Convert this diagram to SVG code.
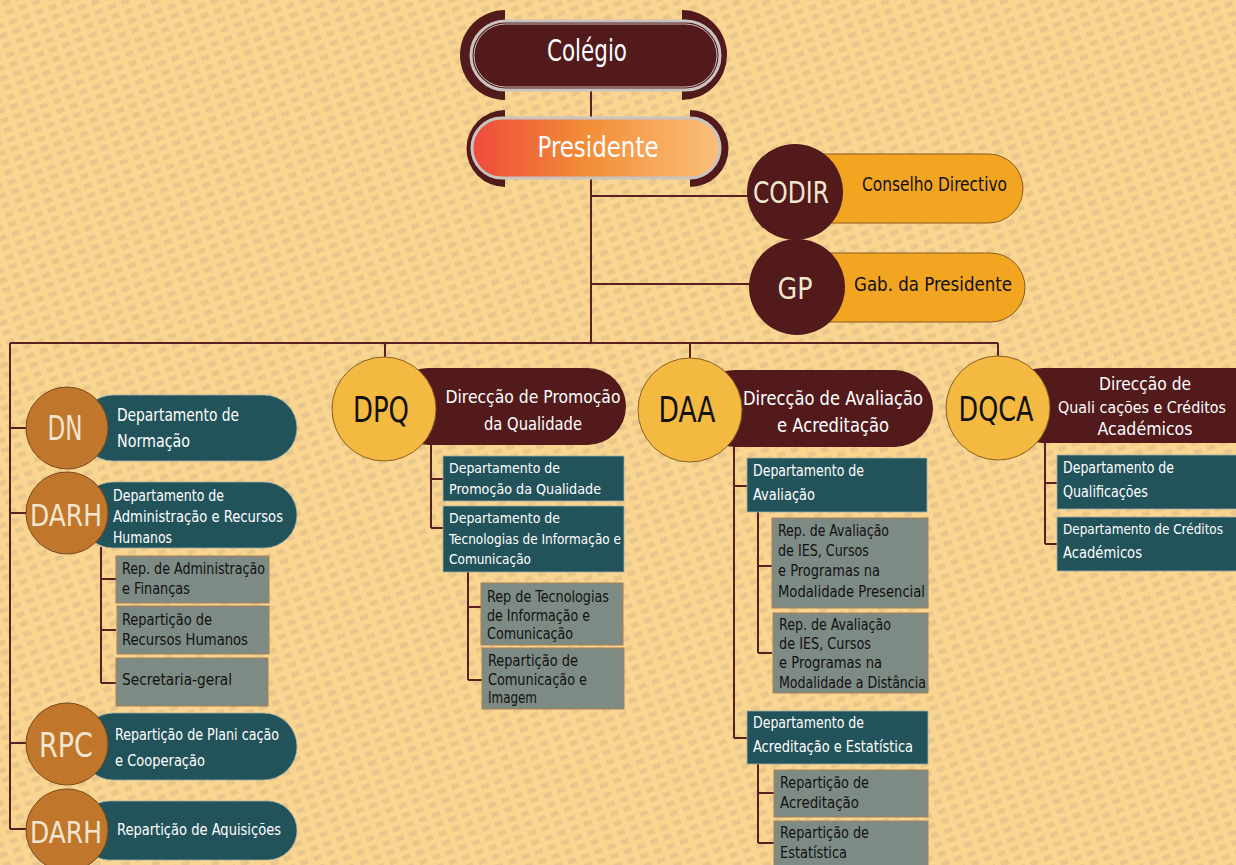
<svg xmlns="http://www.w3.org/2000/svg" width="1236" height="865" viewBox="0 0 1236 865">
<defs>
<pattern id="bgp" width="14" height="10" patternUnits="userSpaceOnUse" patternTransform="rotate(-20)">
<rect width="14" height="10" fill="#F9D58F"/>
<rect x="1" y="2" width="8" height="5" fill="#E8C68C"/>
</pattern>
<linearGradient id="pres" x1="0" y1="0" x2="1" y2="0">
<stop offset="0" stop-color="#EE4A3D"/>
<stop offset="0.45" stop-color="#F28C36"/>
<stop offset="1" stop-color="#FAC07A"/>
</linearGradient>
<style>
.t{font-family:"DejaVu Sans Condensed","Liberation Sans Narrow","DejaVu Sans",sans-serif;font-stretch:condensed}
.con{fill:none;stroke:#5A1F1F;stroke-width:2}
.maroon{fill:#521A1B}
.teal{fill:#22535A;stroke:#9FB0A8;stroke-width:0.8}
.grey{fill:#7E8A84;stroke:#A98055;stroke-width:1}
.copper{fill:#C0772C;stroke:#7A4A20;stroke-width:1}
.gold{fill:#F4B940;stroke:#8A6020;stroke-width:1}
.orange{fill:#F2A521;stroke:#8A5A20;stroke-width:1}
.w{fill:#FFFFFF}
.cream{fill:#F3E6CF}
.k{fill:#111111}
</style>
</defs>
<rect width="1236" height="865" fill="url(#bgp)"/>

<g id="connectors">
<path class="con" d="M591,90 V118 M591,178 V343 M591,196 H748 M591,284 H752"/>
<path class="con" d="M10,343 H998 M10,343 V829 M10,428 H26 M10,513 H26 M10,743 H26 M10,829 H26"/>
<path class="con" d="M385,343 V357 M690,343 V358 M998,343 V356"/>
<path class="con" d="M101,547 V683 M101,579 H116 M101,630 H116 M101,683 H116"/>
<path class="con" d="M431,445 V528 M431,479 H443 M431,528 H443 M468,572 V680 M468,607 H481 M468,680 H482"/>
<path class="con" d="M734,447 V738 M734,486 H747 M734,738 H747 M758,512 V653 M758,566 H772 M758,653 H772 M758,764 V843 M758,793 H774 M758,843 H774"/>
<path class="con" d="M1045,443 V544 M1045,483 H1057 M1045,544 H1057"/>
</g>

<g id="colegio">
<path class="maroon" d="M505,10 A45,45 0 0 0 505,100 Z"/>
<path class="maroon" d="M682,10 A45,45 0 0 1 682,100 Z"/>
<rect x="471" y="21" width="249" height="69" rx="34.5" fill="#521A1B" stroke="#C9C4C0" stroke-width="3"/>
<rect x="474" y="24" width="243" height="63" rx="31.5" fill="none" stroke="#E8E2DC" stroke-width="0.8"/>
<text class="t w" x="587" y="61" font-size="30" text-anchor="middle" textLength="80" lengthAdjust="spacingAndGlyphs">Colégio</text>
</g>

<g id="presidente">
<path class="maroon" d="M505,110 A38.5,38.5 0 0 0 505,187 Z"/>
<path class="maroon" d="M690,110 A38.5,38.5 0 0 1 690,187 Z"/>
<rect x="472" y="118" width="248" height="60" rx="30" fill="url(#pres)" stroke="#C9C4C0" stroke-width="3"/>
<text class="t w" x="598" y="157" font-size="28" text-anchor="middle" textLength="121" lengthAdjust="spacingAndGlyphs">Presidente</text>
</g>

<g id="codir">
<rect class="orange" x="790" y="154" width="233" height="69" rx="34.5"/>
<circle class="maroon" cx="795" cy="192" r="48"/>
<text class="t cream" x="791" y="203" font-size="31" text-anchor="middle" textLength="76" lengthAdjust="spacingAndGlyphs">CODIR</text>
<text class="t k" x="862" y="191" font-size="19" textLength="145" lengthAdjust="spacingAndGlyphs">Conselho Directivo</text>
</g>

<g id="gp">
<rect class="orange" x="792" y="253" width="233" height="69" rx="34.5"/>
<circle class="maroon" cx="797" cy="287" r="48"/>
<text class="t cream" x="795" y="299" font-size="31" text-anchor="middle" textLength="35" lengthAdjust="spacingAndGlyphs">GP</text>
<text class="t k" x="854" y="291" font-size="20" textLength="158" lengthAdjust="spacingAndGlyphs">Gab. da Presidente</text>
</g>

<g id="dn">
<rect class="teal" x="80" y="395" width="217" height="66" rx="33"/>
<circle class="copper" cx="67" cy="428" r="41"/>
<text class="t cream" x="65" y="440" font-size="33" text-anchor="middle" textLength="35" lengthAdjust="spacingAndGlyphs">DN</text>
<text class="t w" x="117" y="421" font-size="17" textLength="122" lengthAdjust="spacingAndGlyphs">Departamento de</text>
<text class="t w" x="117" y="447" font-size="17" textLength="73" lengthAdjust="spacingAndGlyphs">Normação</text>
</g>

<g id="darh">
<rect class="teal" x="80" y="482" width="217" height="66" rx="33"/>
<circle class="copper" cx="67" cy="513" r="41"/>
<text class="t cream" x="66" y="526" font-size="31" text-anchor="middle" textLength="72" lengthAdjust="spacingAndGlyphs">DARH</text>
<text class="t w" x="113" y="501" font-size="15.5" textLength="111" lengthAdjust="spacingAndGlyphs">Departamento de</text>
<text class="t w" x="113" y="522" font-size="15.5" textLength="170" lengthAdjust="spacingAndGlyphs">Administração e Recursos</text>
<text class="t w" x="113" y="543" font-size="15.5" textLength="59" lengthAdjust="spacingAndGlyphs">Humanos</text>
</g>

<g id="rep-admin">
<rect class="grey" x="116" y="556" width="153" height="47"/>
<text class="t k" x="122" y="574" font-size="15.5" textLength="143" lengthAdjust="spacingAndGlyphs">Rep. de Administração</text>
<text class="t k" x="122" y="594" font-size="15.5" textLength="68" lengthAdjust="spacingAndGlyphs">e Finanças</text>
</g>
<g id="rep-rh">
<rect class="grey" x="117" y="606" width="152" height="48"/>
<text class="t k" x="122" y="625" font-size="15.5" textLength="90" lengthAdjust="spacingAndGlyphs">Repartição de</text>
<text class="t k" x="122" y="645" font-size="15.5" textLength="126" lengthAdjust="spacingAndGlyphs">Recursos Humanos</text>
</g>
<g id="secretaria">
<rect class="grey" x="116" y="658" width="152" height="48"/>
<text class="t k" x="122" y="685" font-size="15.5" textLength="110" lengthAdjust="spacingAndGlyphs">Secretaria-geral</text>
</g>

<g id="rpc">
<rect class="teal" x="80" y="713" width="217" height="67" rx="33.5"/>
<circle class="copper" cx="67" cy="744" r="41"/>
<text class="t cream" x="66" y="757" font-size="33" text-anchor="middle" textLength="54" lengthAdjust="spacingAndGlyphs">RPC</text>
<text class="t w" x="115" y="740" font-size="15.5" textLength="164" lengthAdjust="spacingAndGlyphs">Repartição de Plani cação</text>
<text class="t w" x="115" y="766" font-size="15.5" textLength="90" lengthAdjust="spacingAndGlyphs">e Cooperação</text>
</g>

<g id="darh2">
<rect class="teal" x="80" y="801" width="217" height="59" rx="29.5"/>
<circle class="copper" cx="67" cy="830" r="41"/>
<text class="t cream" x="66" y="843" font-size="31" text-anchor="middle" textLength="72" lengthAdjust="spacingAndGlyphs">DARH</text>
<text class="t w" x="117" y="835" font-size="15.5" textLength="164" lengthAdjust="spacingAndGlyphs">Repartição de Aquisições</text>
</g>

<g id="dpq">
<rect class="maroon" x="390" y="368" width="236" height="77" rx="38.5"/>
<circle class="gold" cx="384" cy="409" r="52"/>
<text class="t k" x="381" y="422" font-size="36" text-anchor="middle" textLength="56" lengthAdjust="spacingAndGlyphs">DPQ</text>
<text class="t w" x="533" y="403" font-size="18.5" text-anchor="middle" textLength="175" lengthAdjust="spacingAndGlyphs">Direcção de Promoção</text>
<text class="t w" x="533" y="430" font-size="18.5" text-anchor="middle" textLength="98" lengthAdjust="spacingAndGlyphs">da Qualidade</text>
</g>
<g id="dpq-dep1">
<rect class="teal" x="443" y="456" width="181" height="45"/>
<text class="t w" x="449" y="473" font-size="14.5" textLength="111" lengthAdjust="spacingAndGlyphs">Departamento de</text>
<text class="t w" x="449" y="494" font-size="14.5" textLength="152" lengthAdjust="spacingAndGlyphs">Promoção da Qualidade</text>
</g>
<g id="dpq-dep2">
<rect class="teal" x="443" y="506" width="181" height="66"/>
<text class="t w" x="449" y="523" font-size="14.5" textLength="111" lengthAdjust="spacingAndGlyphs">Departamento de</text>
<text class="t w" x="449" y="544" font-size="14.5" textLength="172" lengthAdjust="spacingAndGlyphs">Tecnologias de Informação e</text>
<text class="t w" x="449" y="564" font-size="14.5" textLength="82" lengthAdjust="spacingAndGlyphs">Comunicação</text>
</g>
<g id="dpq-rep1">
<rect class="grey" x="481" y="583" width="142" height="62"/>
<text class="t k" x="487" y="602" font-size="15" textLength="122" lengthAdjust="spacingAndGlyphs">Rep de Tecnologias</text>
<text class="t k" x="487" y="621" font-size="15" textLength="103" lengthAdjust="spacingAndGlyphs">de Informação e</text>
<text class="t k" x="487" y="639" font-size="15" textLength="86" lengthAdjust="spacingAndGlyphs">Comunicação</text>
</g>
<g id="dpq-rep2">
<rect class="grey" x="482" y="648" width="142" height="61"/>
<text class="t k" x="488" y="666" font-size="15" textLength="90" lengthAdjust="spacingAndGlyphs">Repartição de</text>
<text class="t k" x="488" y="685" font-size="15" textLength="99" lengthAdjust="spacingAndGlyphs">Comunicação e</text>
<text class="t k" x="488" y="703" font-size="15" textLength="49" lengthAdjust="spacingAndGlyphs">Imagem</text>
</g>

<g id="daa">
<rect class="maroon" x="696" y="370" width="237" height="77" rx="38.5"/>
<circle class="gold" cx="690" cy="410" r="52"/>
<text class="t k" x="687" y="422" font-size="36" text-anchor="middle" textLength="57" lengthAdjust="spacingAndGlyphs">DAA</text>
<text class="t w" x="833" y="405" font-size="19.5" text-anchor="middle" textLength="180" lengthAdjust="spacingAndGlyphs">Direcção de Avaliação</text>
<text class="t w" x="833" y="432" font-size="19.5" text-anchor="middle" textLength="112" lengthAdjust="spacingAndGlyphs">e Acreditação</text>
</g>
<g id="daa-dep1">
<rect class="teal" x="747" y="458" width="180" height="54"/>
<text class="t w" x="753" y="476" font-size="15" textLength="111" lengthAdjust="spacingAndGlyphs">Departamento de</text>
<text class="t w" x="753" y="500" font-size="15" textLength="62" lengthAdjust="spacingAndGlyphs">Avaliação</text>
</g>
<g id="daa-rep1">
<rect class="grey" x="772" y="518" width="156" height="90"/>
<text class="t k" x="778" y="536" font-size="15" textLength="111" lengthAdjust="spacingAndGlyphs">Rep. de Avaliação</text>
<text class="t k" x="778" y="556" font-size="15" textLength="91" lengthAdjust="spacingAndGlyphs">de IES, Cursos</text>
<text class="t k" x="778" y="576" font-size="15" textLength="102" lengthAdjust="spacingAndGlyphs">e Programas na</text>
<text class="t k" x="778" y="597" font-size="15" textLength="147" lengthAdjust="spacingAndGlyphs">Modalidade Presencial</text>
</g>
<g id="daa-rep2">
<rect class="grey" x="773" y="613" width="155" height="80"/>
<text class="t k" x="779" y="630" font-size="15" textLength="112" lengthAdjust="spacingAndGlyphs">Rep. de Avaliação</text>
<text class="t k" x="779" y="649" font-size="15" textLength="92" lengthAdjust="spacingAndGlyphs">de IES, Cursos</text>
<text class="t k" x="779" y="668" font-size="15" textLength="103" lengthAdjust="spacingAndGlyphs">e Programas na</text>
<text class="t k" x="779" y="688" font-size="15" textLength="147" lengthAdjust="spacingAndGlyphs">Modalidade a Distância</text>
</g>
<g id="daa-dep2">
<rect class="teal" x="747" y="711" width="181" height="53"/>
<text class="t w" x="753" y="728" font-size="15" textLength="111" lengthAdjust="spacingAndGlyphs">Departamento de</text>
<text class="t w" x="753" y="752" font-size="15" textLength="160" lengthAdjust="spacingAndGlyphs">Acreditação e Estatística</text>
</g>
<g id="daa-rep3">
<rect class="grey" x="774" y="770" width="154" height="47"/>
<text class="t k" x="780" y="788" font-size="15" textLength="89" lengthAdjust="spacingAndGlyphs">Repartição de</text>
<text class="t k" x="780" y="808" font-size="15" textLength="79" lengthAdjust="spacingAndGlyphs">Acreditação</text>
</g>
<g id="daa-rep4">
<rect class="grey" x="774" y="821" width="154" height="50"/>
<text class="t k" x="780" y="838" font-size="15" textLength="89" lengthAdjust="spacingAndGlyphs">Repartição de</text>
<text class="t k" x="780" y="858" font-size="15" textLength="67" lengthAdjust="spacingAndGlyphs">Estatística</text>
</g>

<g id="dqca">
<rect class="maroon" x="1005" y="368" width="270" height="75" rx="37.5"/>
<circle class="gold" cx="998" cy="408" r="52"/>
<text class="t k" x="996" y="421" font-size="34" text-anchor="middle" textLength="75" lengthAdjust="spacingAndGlyphs">DQCA</text>
<text class="t w" x="1145" y="390" font-size="18.5" text-anchor="middle" textLength="92" lengthAdjust="spacingAndGlyphs">Direcção de</text>
<text class="t w" x="1142" y="413" font-size="16.5" text-anchor="middle" textLength="168" lengthAdjust="spacingAndGlyphs">Quali cações e Créditos</text>
<text class="t w" x="1145" y="435" font-size="18.5" text-anchor="middle" textLength="95" lengthAdjust="spacingAndGlyphs">Académicos</text>
</g>
<g id="dqca-dep1">
<rect class="teal" x="1057" y="455" width="185" height="54"/>
<text class="t w" x="1063" y="473" font-size="15" textLength="111" lengthAdjust="spacingAndGlyphs">Departamento de</text>
<text class="t w" x="1063" y="497" font-size="15" textLength="85" lengthAdjust="spacingAndGlyphs">Qualificações</text>
</g>
<g id="dqca-dep2">
<rect class="teal" x="1057" y="517" width="185" height="54"/>
<text class="t w" x="1063" y="534" font-size="14" textLength="160" lengthAdjust="spacingAndGlyphs">Departamento de Créditos</text>
<text class="t w" x="1063" y="558" font-size="15" textLength="79" lengthAdjust="spacingAndGlyphs">Académicos</text>
</g>
</svg>
